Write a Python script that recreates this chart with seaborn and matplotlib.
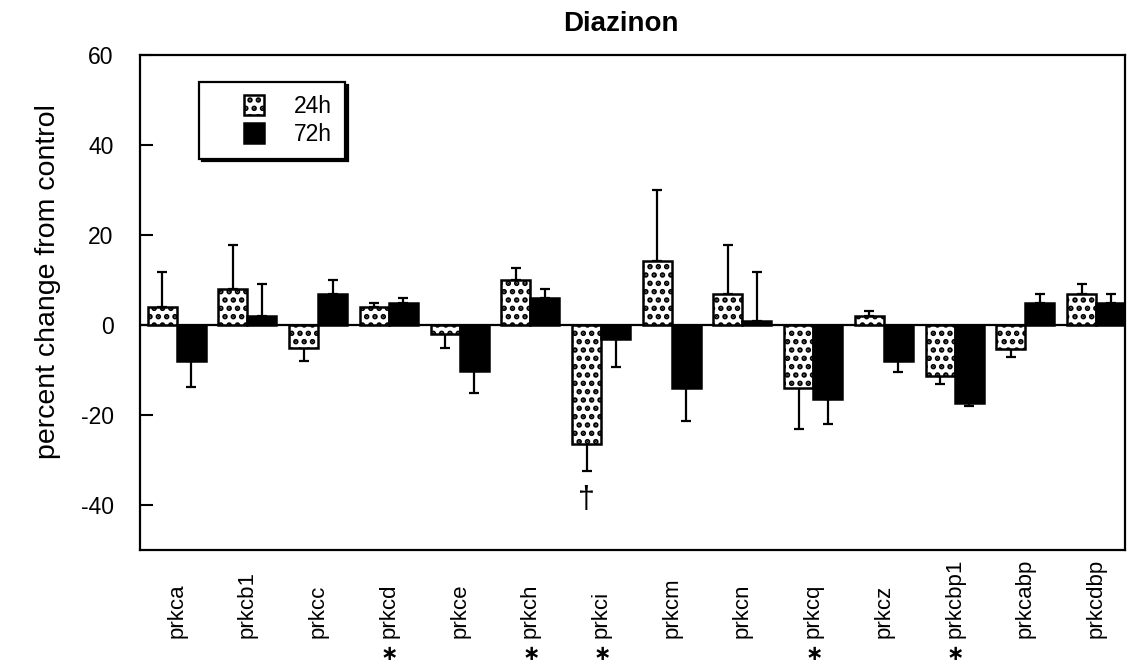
import numpy as np
import pandas as pd
import matplotlib
matplotlib.use("Agg")
import matplotlib.pyplot as plt
import seaborn as sns
from matplotlib.patches import Rectangle
from matplotlib.legend_handler import HandlerPatch
import matplotlib.transforms as mtransforms

# ---------------- data ----------------
genes = ["prkca", "prkcb1", "prkcc", "prkcd", "prkce", "prkch", "prkci",
         "prkcm", "prkcn", "prkcq", "prkcz", "prkcbp1", "prkcabp", "prkcdbp"]
times = ["24h", "72h"]
vals_24h = [4.1, 8.1, -5.1, 4.1, -2.0, 10.0, -26.4, 14.2, 6.9, -14.1, 1.9, -11.3, -5.4, 6.9]
err_24h = [7.7, 9.7, 2.9, 0.9, 3.2, 2.7, 6.0, 15.9, 10.9, 9.1, 1.2, 1.8, 1.6, 2.2]
vals_72h = [-8.0, 1.9, 6.8, 5.0, -10.2, 5.9, -3.1, -14.1, 0.9, -16.4, -8.1, -17.3, 5.0, 5.0]
err_72h = [5.8, 7.2, 3.2, 0.9, 4.8, 2.2, 6.3, 7.2, 10.8, 5.7, 2.3, 0.7, 1.8, 1.8]
significance = ["", "", "", "*", "", "*", "*", "", "", "*", "", "*", "", ""]
dagger_gene = "prkci"
yticks = [-40, -20, 0, 20, 40, 60]
title = "Diazinon"
ylabel = "percent change from control"

# ---------------- style ----------------
sns.set_style("ticks")
plt.rcParams["font.family"] = ["Liberation Sans", "DejaVu Sans"]
plt.rcParams["hatch.linewidth"] = 2.7
plt.rcParams["hatch.color"] = "black"
plt.rcParams["text.color"] = "black"
plt.rcParams["axes.labelcolor"] = "black"
plt.rcParams["axes.unicode_minus"] = False
plt.rcParams["mathtext.fontset"] = "dejavusans"

df = pd.DataFrame({
    "gene": genes * 2,
    "time": ["24h"] * len(genes) + ["72h"] * len(genes),
    "value": vals_24h + vals_72h,
})

fig = plt.figure(figsize=(11.31, 6.71), dpi=100)
ax = fig.add_axes([140 / 1131, 1 - 550 / 671, 985 / 1131, 495 / 671])

ax.axhline(0, color="black", lw=1.6, zorder=0.5)

sns.barplot(data=df, x="gene", y="value", hue="time", hue_order=times,
            order=genes, palette={"24h": "white", "72h": "black"},
            edgecolor="black", linewidth=1.8, width=0.82, gap=0,
            errorbar=None, legend=False, ax=ax, zorder=2)

for p in ax.containers[0].patches:
    p.set_hatch("..")

# error bars (one-sided, away from zero)
for cont, errs in zip(ax.containers, [err_24h, err_72h]):
    xs = np.array([p.get_x() + p.get_width() / 2 for p in cont.patches])
    vals = np.array(cont.datavalues)
    errs = np.array(errs)
    lower = np.where(vals < 0, errs, 0)
    upper = np.where(vals >= 0, errs, 0)
    ax.errorbar(xs, vals, yerr=[lower, upper], fmt="none", ecolor="black",
                elinewidth=1.6, capsize=3.4, capthick=1.6, zorder=1.5)

ax.set_ylim(-50, 60)
ax.set_xlim(-0.52, 13.41)
ax.set_yticks(yticks)
ax.set_xlabel("")
ax.set_ylabel(ylabel, fontsize=20.5, color="black")
ax.yaxis.set_label_coords(-0.080, 0.543)
ax.set_title(title, fontsize=20, fontweight="bold", x=0.488, pad=17, color="black")

for s in ax.spines.values():
    s.set_visible(True)
    s.set_linewidth(1.6)
    s.set_color("black")

ax.tick_params(axis="y", direction="in", length=9, width=1.5, labelsize=16.5,
               colors="black", pad=19)
ax.tick_params(axis="x", length=0, labelsize=16, pad=63, colors="black")
ax.set_xticks(range(len(genes)))
ax.set_xticklabels(genes, rotation=90)
for lab in ax.get_xticklabels():
    lab.set_verticalalignment("bottom")

# dagger
idx = genes.index(dagger_gene)
pd_ = ax.containers[0].patches[idx]
ax.text(pd_.get_x() + pd_.get_width() / 2, -39, "\u2020", ha="center",
        va="center", fontsize=22, color="black")

# significance stars
trans = mtransforms.blended_transform_factory(ax.transData, ax.transAxes)
for i, s in enumerate(significance):
    if s:
        ax.text(i, -0.212, r"$\mathbf{\ast}$", transform=trans, ha="center",
                va="center", fontsize=15, color="black")

# legend
def square_handle(legend, orig_handle, xdescent, ydescent, width, height, fontsize):
    return Rectangle((-xdescent + width - height, -ydescent), height, height)

handles = [ax.containers[0].patches[0], ax.containers[1].patches[0]]
leg = ax.legend(handles, times, loc="upper left", bbox_to_anchor=(0.060, 0.945),
                fontsize=16.5, frameon=True, fancybox=False,
                shadow={"color": "black", "alpha": 1},
                handlelength=2.3, handleheight=1.0, handletextpad=1.3,
                labelspacing=0.22, borderpad=0.55, borderaxespad=0,
                handler_map={Rectangle: HandlerPatch(patch_func=square_handle)})
leg.get_frame().set_edgecolor("black")
leg.get_frame().set_linewidth(1.6)
leg.get_frame().set_alpha(1)
for t in leg.get_texts():
    t.set_color("black")

fig.savefig("out.png", dpi=100)
